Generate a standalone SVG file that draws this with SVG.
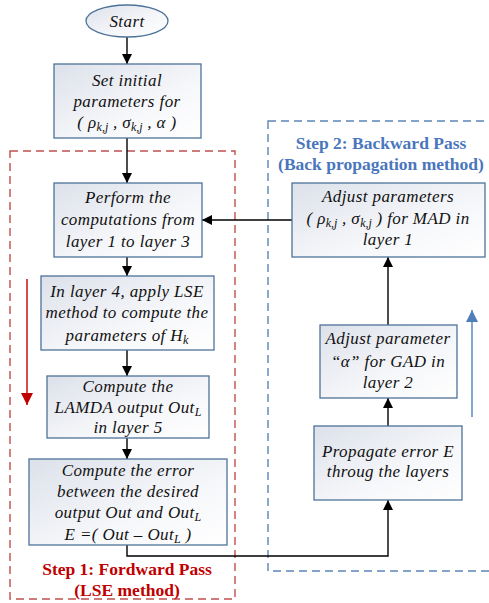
<svg xmlns="http://www.w3.org/2000/svg" width="489" height="603" viewBox="0 0 489 603">
<defs>
<linearGradient id="g" x1="0" y1="0" x2="1" y2="1">
<stop offset="0" stop-color="#dce1ea"/>
<stop offset="0.6" stop-color="#f6f7fa"/>
<stop offset="1" stop-color="#ffffff"/>
</linearGradient>
<marker id="ah" viewBox="0 0 10 10" refX="10" refY="5" markerWidth="10" markerHeight="10" markerUnits="userSpaceOnUse" orient="auto">
<path d="M0,0 L10,5 L0,10 z" fill="#000"/>
</marker>
<marker id="ahr" viewBox="0 0 10 10" refX="10" refY="5" markerWidth="12" markerHeight="12" markerUnits="userSpaceOnUse" orient="auto">
<path d="M0,0 L10,5 L0,10 z" fill="#c00000"/>
</marker>
<marker id="ahb" viewBox="0 0 10 10" refX="10" refY="5" markerWidth="12" markerHeight="12" markerUnits="userSpaceOnUse" orient="auto">
<path d="M0,0 L10,5 L0,10 z" fill="#4f7fba"/>
</marker>
</defs>
<style>
.box{fill:url(#g);stroke:#4d7299;stroke-width:1.3}
.t{font-family:"Liberation Serif","Times New Roman","DejaVu Serif",serif;font-style:italic;font-size:17px;letter-spacing:0.4px;fill:#111;text-anchor:middle}
.s{font-size:12px;letter-spacing:0}
.lbl{font-family:"Liberation Serif","Times New Roman","DejaVu Serif",serif;font-weight:bold;font-size:17.5px;text-anchor:middle}
.c{fill:none;stroke:#000;stroke-width:1.4}
</style>
<rect width="489" height="603" fill="#fff"/>

<g id="forward-region">
<rect x="10" y="151" width="225" height="448" fill="none" stroke="#c0504d" stroke-width="1.4" stroke-dasharray="8,5"/>
<text class="lbl" x="127" y="575" fill="#c00000">Step 1: Fordward Pass</text>
<text class="lbl" x="127" y="596" fill="#c00000">(LSE method)</text>
<line x1="27" y1="279" x2="27" y2="405" stroke="#c00000" stroke-width="1.4" marker-end="url(#ahr)"/>
</g>

<g id="backward-region">
<rect x="268" y="121" width="230" height="450" fill="none" stroke="#5b86b6" stroke-width="1.4" stroke-dasharray="8,5"/>
<text class="lbl" x="381" y="149" fill="#4a76bd">Step 2: Backward Pass</text>
<text class="lbl" x="381" y="170" fill="#4a76bd">(Back propagation method)</text>
<line x1="472" y1="417" x2="472" y2="310" stroke="#4f7fba" stroke-width="1.4" marker-end="url(#ahb)"/>
</g>

<g id="connectors">
<line class="c" x1="127" y1="37" x2="127" y2="64" marker-end="url(#ah)"/>
<line class="c" x1="127" y1="138" x2="127" y2="183" marker-end="url(#ah)"/>
<line class="c" x1="127" y1="257" x2="127" y2="276" marker-end="url(#ah)"/>
<line class="c" x1="127" y1="350" x2="127" y2="376" marker-end="url(#ah)"/>
<line class="c" x1="127" y1="438" x2="127" y2="459" marker-end="url(#ah)"/>
<polyline class="c" points="127,545 127,556 388,556 388,500" marker-end="url(#ah)"/>
<line class="c" x1="388" y1="426" x2="388" y2="398" marker-end="url(#ah)"/>
<line class="c" x1="388" y1="325" x2="388" y2="257" marker-end="url(#ah)"/>
<line class="c" x1="292" y1="220" x2="202" y2="220" marker-end="url(#ah)"/>
</g>

<g id="start">
<ellipse cx="127" cy="21" rx="41" ry="16" fill="url(#g)" stroke="#4d7299" stroke-width="1.3"/>
<text class="t" x="127" y="27">Start</text>
</g>

<g id="init">
<rect class="box" x="54" y="64" width="147" height="74"/>
<text class="t" x="127" y="86">Set initial</text>
<text class="t" x="127" y="107">parameters for</text>
<text class="t" x="127" y="128">( ρ<tspan class="s" dy="3">k,j</tspan><tspan dy="-3"> , σ</tspan><tspan class="s" dy="3">k,j</tspan><tspan dy="-3"> , α )</tspan></text>
</g>

<g id="perform">
<rect class="box" x="54" y="183" width="148" height="74"/>
<text class="t" x="128" y="203">Perform the</text>
<text class="t" x="128" y="225">computations from</text>
<text class="t" x="128" y="247">layer 1 to layer 3</text>
</g>

<g id="layer4">
<rect class="box" x="41" y="276" width="173" height="74"/>
<text class="t" x="127" y="297">In layer 4, apply LSE</text>
<text class="t" x="127" y="318">method to compute the</text>
<text class="t" x="127" y="341">parameters of H<tspan class="s" dy="3">k</tspan></text>
</g>

<g id="lamda">
<rect class="box" x="47" y="376" width="162" height="62"/>
<text class="t" x="128" y="392">Compute the</text>
<text class="t" x="128" y="413">LAMDA output Out<tspan class="s" dy="3">L</tspan></text>
<text class="t" x="128" y="433">in layer 5</text>
</g>

<g id="error">
<rect class="box" x="29" y="459" width="198" height="86"/>
<text class="t" x="128" y="476">Compute the error</text>
<text class="t" x="128" y="497">between  the desired</text>
<text class="t" x="128" y="518">output Out and Out<tspan class="s" dy="3">L</tspan></text>
<text class="t" x="128" y="540">E =( Out – Out<tspan class="s" dy="3">L</tspan><tspan dy="-3"> )</tspan></text>
</g>

<g id="adjust-mad">
<rect class="box" x="292" y="183" width="193" height="74"/>
<text class="t" x="388" y="202">Adjust parameters</text>
<text class="t" x="388" y="224">( ρ<tspan class="s" dy="3">k,j</tspan><tspan dy="-3"> , σ</tspan><tspan class="s" dy="3">k,j</tspan><tspan dy="-3">  ) for MAD in</tspan></text>
<text class="t" x="388" y="245">layer 1</text>
</g>

<g id="adjust-gad">
<rect class="box" x="320" y="325" width="137" height="73"/>
<text class="t" x="388" y="344">Adjust parameter</text>
<text class="t" x="388" y="367">“α”  for GAD in</text>
<text class="t" x="388" y="388">layer 2</text>
</g>

<g id="propagate">
<rect class="box" x="314" y="426" width="148" height="74"/>
<text class="t" x="388" y="457">Propagate error E</text>
<text class="t" x="388" y="477">throug the layers</text>
</g>
</svg>
